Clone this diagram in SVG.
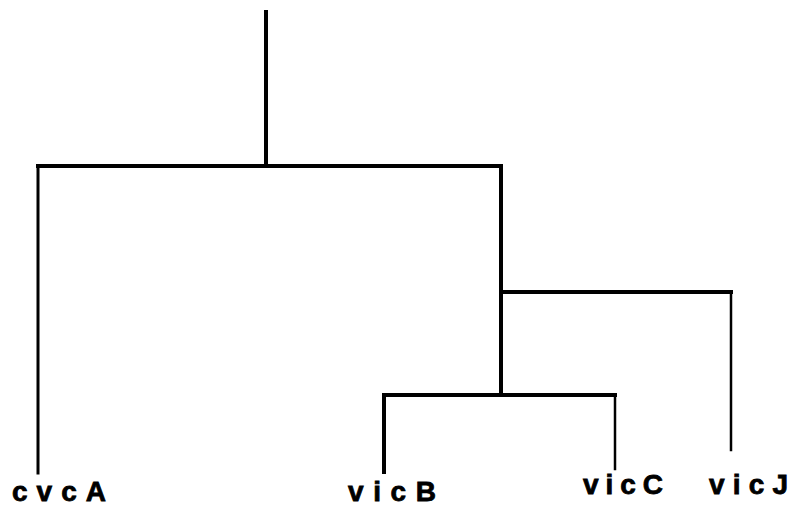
<svg xmlns="http://www.w3.org/2000/svg" width="797" height="513" viewBox="0 0 797 513">
<style>
.ln{fill:none;stroke:#000;stroke-width:4;stroke-linecap:square;stroke-linejoin:miter}
.mid{stroke-width:3}
.thin{stroke-width:2.5}
.lbl{font-family:"Liberation Sans",Arial,sans-serif;font-weight:bold;font-size:28px;fill:#000;stroke:#000;stroke-width:0.8}
</style>
<rect width="797" height="513" fill="#fff"/>
<g id="connectors">
<path class="ln" d="M266 12 V166"/>
<path class="ln" d="M38 166 H501 V395"/>
<path class="ln mid" d="M38 166 V473"/>
<path class="ln" d="M501 292 H731"/>
<path class="ln thin" d="M731 292 V450"/>
<path class="ln" d="M384 472 V395 H615"/>
<path class="ln thin" d="M615 395 V469"/>
</g>
<g id="cvcA"><text class="lbl" x="12" y="501" textLength="94" lengthAdjust="spacing">cvcA</text></g>
<g id="vicB"><text class="lbl" x="348" y="501" textLength="88" lengthAdjust="spacing">vicB</text></g>
<g id="vicC"><text class="lbl" x="583" y="494" textLength="80" lengthAdjust="spacing">vicC</text></g>
<g id="vicJ"><text class="lbl" x="709" y="494" textLength="79" lengthAdjust="spacing">vicJ</text></g>
</svg>
